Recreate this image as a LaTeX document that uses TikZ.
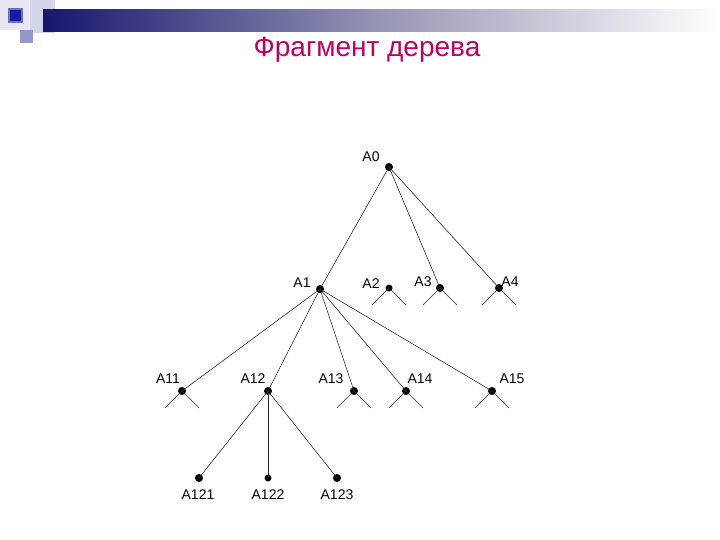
\documentclass[tikz,border=0pt]{standalone}
\usepackage{fontspec}
\setmainfont{Liberation Sans}
\definecolor{navy}{RGB}{22,22,110}
\definecolor{titlec}{RGB}{190,0,100}
\definecolor{lav1}{RGB}{212,212,234}
\definecolor{lav2}{RGB}{150,150,205}
\definecolor{lav0}{RGB}{232,232,242}
\definecolor{dkblue}{RGB}{26,26,156}
\definecolor{bordblue}{RGB}{110,110,195}
\definecolor{edgec}{RGB}{40,40,40}
\begin{document}
\begin{tikzpicture}[x=1bp,y=-1bp,
  dot/.style={circle,fill=black,inner sep=0pt,minimum size=8bp},
  lbl/.style={inner sep=0pt,font=\fontsize{14bp}{16bp}\selectfont},
  edge/.style={draw=edgec,line width=0.6bp},
  leg/.style={draw=edgec,line width=0.6bp}]
\useasboundingbox (0,0) rectangle (720,540);
% decoration
\fill[lav0] (0,0) rectangle (32,30);
\fill[lav1] (30,0) rectangle (55,33);
\shade[left color=navy,right color=white,middle color={rgb,255:red,150;green,150;blue,182}] (43,10) rectangle (720,32);
\fill[lav2] (20,30) rectangle (33,43);
\fill[bordblue] (8,8) rectangle (23,23);
\fill[dkblue] (10,10) rectangle (21,21);
% title
\node[inner sep=0pt,anchor=base,text=titlec,font=\fontsize{28bp}{32bp}\selectfont] (title) at (367,57) {Фрагмент дерева};
% dots
\node[dot] (A0) at (389,167) {};
\node[dot] (A1) at (320,289) {};
\node[dot,minimum size=7bp] (A2) at (389,288) {};
\node[dot] (A3) at (440,288) {};
\node[dot] (A4) at (499,288) {};
\node[dot] (A11) at (182,391) {};
\node[dot] (A12) at (268,391) {};
\node[dot] (A13) at (354,391) {};
\node[dot] (A14) at (406,391) {};
\node[dot] (A15) at (492,391) {};
\node[dot] (A121) at (199,478) {};
\node[dot,minimum size=7bp] (A122) at (268,478) {};
\node[dot] (A123) at (337,478) {};
% labels
\node[lbl] (lA0) at (371,157) {A0};
\node[lbl] (lA1) at (302,283) {A1};
\node[lbl] (lA2) at (371,284) {A2};
\node[lbl] (lA3) at (423,282) {A3};
\node[lbl] (lA4) at (510,282) {A4};
\node[lbl] (lA11) at (168,379) {A11};
\node[lbl] (lA12) at (253,379) {A12};
\node[lbl] (lA13) at (331,379) {A13};
\node[lbl] (lA14) at (420,379) {A14};
\node[lbl] (lA15) at (512,379) {A15};
\node[lbl] (lA121) at (198,495) {A121};
\node[lbl] (lA122) at (268,495) {A122};
\node[lbl] (lA123) at (337,495) {A123};
% edges
\foreach \c in {A1,A3,A4} \path[edge] (A0.center) -- (\c.center);
\foreach \c in {A11,A12,A13,A14,A15} \path[edge] (A1.center) -- (\c.center);
\foreach \c in {A121,A122,A123} \path[edge] (A12.center) -- (\c.center);
% legs
\foreach \c in {A2,A3,A4,A11,A13,A14,A15}{
  \path[leg] (\c.center) -- ++(-17,17);
  \path[leg] (\c.center) -- ++(17,17);
}
\end{tikzpicture}
\end{document}
